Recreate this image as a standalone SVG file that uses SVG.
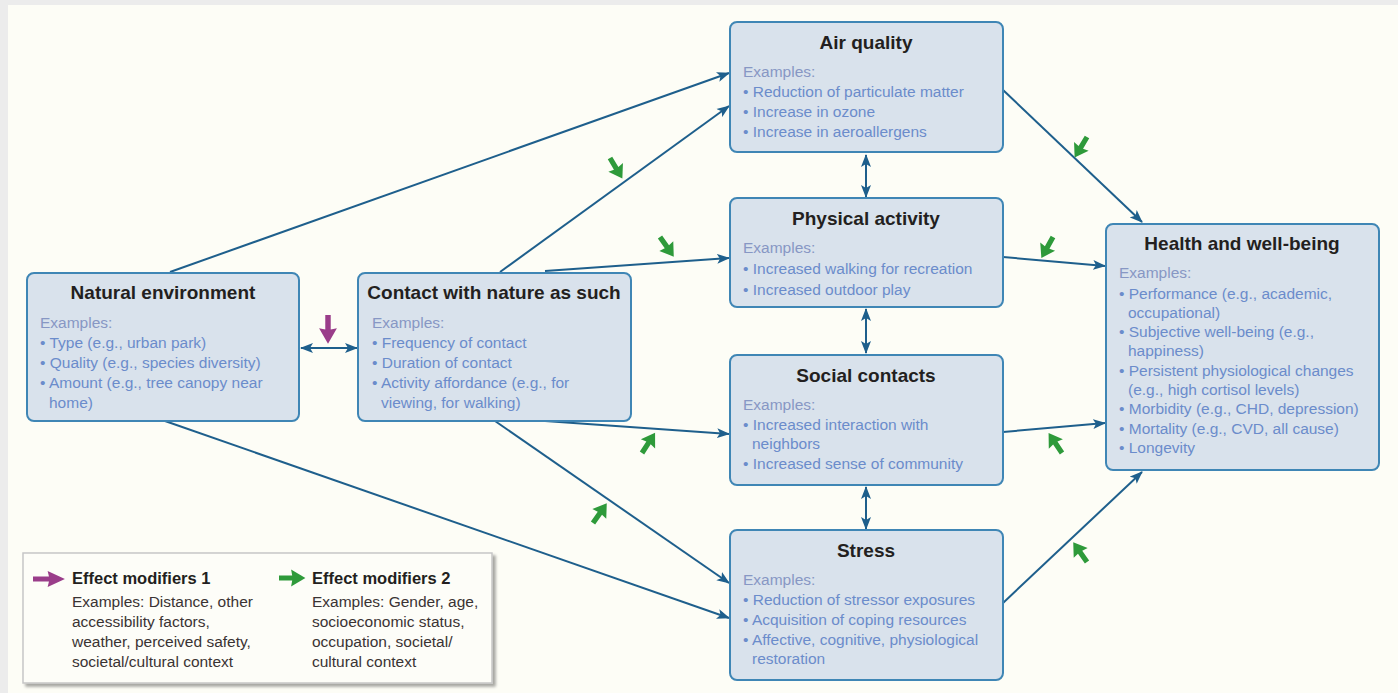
<svg xmlns="http://www.w3.org/2000/svg" xmlns:xlink="http://www.w3.org/1999/xlink" width="1398" height="693" viewBox="0 0 1398 693">
<defs>
<style>
.box{fill:#d9e2ec;stroke:#3f86b5;stroke-width:2}
.title{font-family:"Liberation Sans",Arial,sans-serif;font-weight:bold;font-size:19px;fill:#231f20;text-anchor:middle}
.ex{font-family:"Liberation Sans",Arial,sans-serif;font-size:15.5px;fill:#8797c4}
.body{font-family:"Liberation Sans",Arial,sans-serif;font-size:15.5px;fill:#6b8ccb}
.conn{stroke:#1e5f8c;stroke-width:2;fill:none}
.lgt{font-family:"Liberation Sans",Arial,sans-serif;font-weight:bold;font-size:16.5px;fill:#231f20}
.lgb{font-family:"Liberation Sans",Arial,sans-serif;font-size:15.5px;fill:#3a3333}
</style>
<marker id="ah" markerUnits="userSpaceOnUse" markerWidth="14" markerHeight="12" refX="12" refY="5" orient="auto-start-reverse" viewBox="0 0 14 10">
<path d="M0,0 L13,5 L0,10 L3,5 Z" fill="#1e5f8c"/>
</marker>
<polygon id="mod" points="24,0 11,-8.5 12,-2.6 0,-2.6 0,2.6 12,2.6 11,8.5"/>
<filter id="sh" x="-5%" y="-5%" width="115%" height="120%">
<feGaussianBlur in="SourceAlpha" stdDeviation="1.5"/>
<feOffset dx="3" dy="3"/>
<feComponentTransfer><feFuncA type="linear" slope="0.35"/></feComponentTransfer>
<feMerge><feMergeNode/><feMergeNode in="SourceGraphic"/></feMerge>
</filter>
</defs>
<rect x="0" y="0" width="1398" height="693" fill="#ececec"/>
<rect x="8" y="5" width="1390" height="688" fill="#fdfdf6"/>

<g id="connectors">
<line class="conn" x1="170" y1="272" x2="729" y2="73" marker-end="url(#ah)"/>
<line class="conn" x1="500" y1="272" x2="729" y2="106" marker-end="url(#ah)"/>
<line class="conn" x1="545" y1="271" x2="729" y2="258" marker-end="url(#ah)"/>
<line class="conn" x1="545" y1="421" x2="729" y2="434" marker-end="url(#ah)"/>
<line class="conn" x1="495" y1="421" x2="729" y2="583" marker-end="url(#ah)"/>
<line class="conn" x1="165" y1="421" x2="729" y2="618" marker-end="url(#ah)"/>
<line class="conn" x1="1003" y1="90" x2="1142" y2="222" marker-end="url(#ah)"/>
<line class="conn" x1="1003" y1="257" x2="1105" y2="266" marker-end="url(#ah)"/>
<line class="conn" x1="1003" y1="432" x2="1105" y2="423" marker-end="url(#ah)"/>
<line class="conn" x1="1003" y1="603" x2="1142" y2="472" marker-end="url(#ah)"/>
<line class="conn" x1="866" y1="155" x2="866" y2="197" marker-start="url(#ah)" marker-end="url(#ah)"/>
<line class="conn" x1="866" y1="309" x2="866" y2="353" marker-start="url(#ah)" marker-end="url(#ah)"/>
<line class="conn" x1="866" y1="487" x2="866" y2="529" marker-start="url(#ah)" marker-end="url(#ah)"/>
<line class="conn" x1="301" y1="348" x2="357" y2="348" marker-start="url(#ah)" marker-end="url(#ah)"/>
</g>

<g id="modifiers">
<use href="#mod" fill="#9a3d8a" transform="translate(328,315) rotate(90) scale(1.2,1.05)"/>
<use href="#mod" fill="#2e9a3a" transform="translate(610,158) rotate(59)"/>
<use href="#mod" fill="#2e9a3a" transform="translate(660,237) rotate(55)"/>
<use href="#mod" fill="#2e9a3a" transform="translate(1087,137) rotate(121)"/>
<use href="#mod" fill="#2e9a3a" transform="translate(1053,237) rotate(119)"/>
<use href="#mod" fill="#2e9a3a" transform="translate(642,453) rotate(-57)"/>
<use href="#mod" fill="#2e9a3a" transform="translate(593,523) rotate(-55)"/>
<use href="#mod" fill="#2e9a3a" transform="translate(1062,453) rotate(-124)"/>
<use href="#mod" fill="#2e9a3a" transform="translate(1087,562) rotate(-125)"/>
</g>

<g id="natural-environment">
<rect class="box" x="27" y="273" width="272" height="148" rx="7"/>
<text class="title" x="163" y="299">Natural environment</text>
<text class="ex" x="40" y="328">Examples:</text>
<text class="body" x="40" y="348">• Type (e.g., urban park)</text>
<text class="body" x="40" y="368">• Quality (e.g., species diversity)</text>
<text class="body" x="40" y="388">• Amount (e.g., tree canopy near</text>
<text class="body" x="49" y="408">home)</text>
</g>

<g id="contact-with-nature">
<rect class="box" x="358" y="273" width="273" height="148" rx="7"/>
<text class="title" x="494" y="299">Contact with nature as such</text>
<text class="ex" x="372" y="328">Examples:</text>
<text class="body" x="372" y="348">• Frequency of contact</text>
<text class="body" x="372" y="368">• Duration of contact</text>
<text class="body" x="372" y="388">• Activity affordance (e.g., for</text>
<text class="body" x="381" y="408">viewing, for walking)</text>
</g>

<g id="air-quality">
<rect class="box" x="730" y="22" width="273" height="130" rx="7"/>
<text class="title" x="866" y="49">Air quality</text>
<text class="ex" x="743" y="77">Examples:</text>
<text class="body" x="743" y="97">• Reduction of particulate matter</text>
<text class="body" x="743" y="117">• Increase in ozone</text>
<text class="body" x="743" y="137">• Increase in aeroallergens</text>
</g>

<g id="physical-activity">
<rect class="box" x="730" y="198" width="273" height="109" rx="7"/>
<text class="title" x="866" y="225">Physical activity</text>
<text class="ex" x="743" y="253">Examples:</text>
<text class="body" x="743" y="274">• Increased walking for recreation</text>
<text class="body" x="743" y="295">• Increased outdoor play</text>
</g>

<g id="social-contacts">
<rect class="box" x="730" y="355" width="273" height="130" rx="7"/>
<text class="title" x="866" y="382">Social contacts</text>
<text class="ex" x="743" y="410">Examples:</text>
<text class="body" x="743" y="430">• Increased interaction with</text>
<text class="body" x="752" y="449">neighbors</text>
<text class="body" x="743" y="469">• Increased sense of community</text>
</g>

<g id="stress">
<rect class="box" x="730" y="530" width="273" height="150" rx="7"/>
<text class="title" x="866" y="557">Stress</text>
<text class="ex" x="743" y="585">Examples:</text>
<text class="body" x="743" y="605">• Reduction of stressor exposures</text>
<text class="body" x="743" y="625">• Acquisition of coping resources</text>
<text class="body" x="743" y="645">• Affective, cognitive, physiological</text>
<text class="body" x="752" y="664">restoration</text>
</g>

<g id="health-and-well-being">
<rect class="box" x="1106" y="224" width="273" height="246" rx="7"/>
<text class="title" x="1242" y="250">Health and well-being</text>
<text class="ex" x="1119" y="278">Examples:</text>
<text class="body" x="1119" y="299">• Performance (e.g., academic,</text>
<text class="body" x="1128" y="318">occupational)</text>
<text class="body" x="1119" y="337">• Subjective well-being (e.g.,</text>
<text class="body" x="1128" y="356">happiness)</text>
<text class="body" x="1119" y="376">• Persistent physiological changes</text>
<text class="body" x="1128" y="395">(e.g., high cortisol levels)</text>
<text class="body" x="1119" y="414">• Morbidity (e.g., CHD, depression)</text>
<text class="body" x="1119" y="434">• Mortality (e.g., CVD, all cause)</text>
<text class="body" x="1119" y="453">• Longevity</text>
</g>

<g id="legend">
<rect x="23" y="553" width="469" height="130" fill="#fdfdf8" stroke="#c6c6c6" stroke-width="1.5" filter="url(#sh)"/>
<use href="#mod" fill="#9a3d8a" transform="translate(33,579) scale(1.33,0.95)"/>
<text class="lgt" x="72" y="584">Effect modifiers 1</text>
<text class="lgb" x="72" y="607">Examples: Distance, other</text>
<text class="lgb" x="72" y="627">accessibility factors,</text>
<text class="lgb" x="72" y="647">weather, perceived safety,</text>
<text class="lgb" x="72" y="667">societal/cultural context</text>
<use href="#mod" fill="#2e9a3a" transform="translate(279,578) scale(1.1,1)"/>
<text class="lgt" x="312" y="584">Effect modifiers 2</text>
<text class="lgb" x="312" y="607">Examples: Gender, age,</text>
<text class="lgb" x="312" y="627">socioeconomic status,</text>
<text class="lgb" x="312" y="647">occupation, societal/</text>
<text class="lgb" x="312" y="667">cultural context</text>
</g>
</svg>
